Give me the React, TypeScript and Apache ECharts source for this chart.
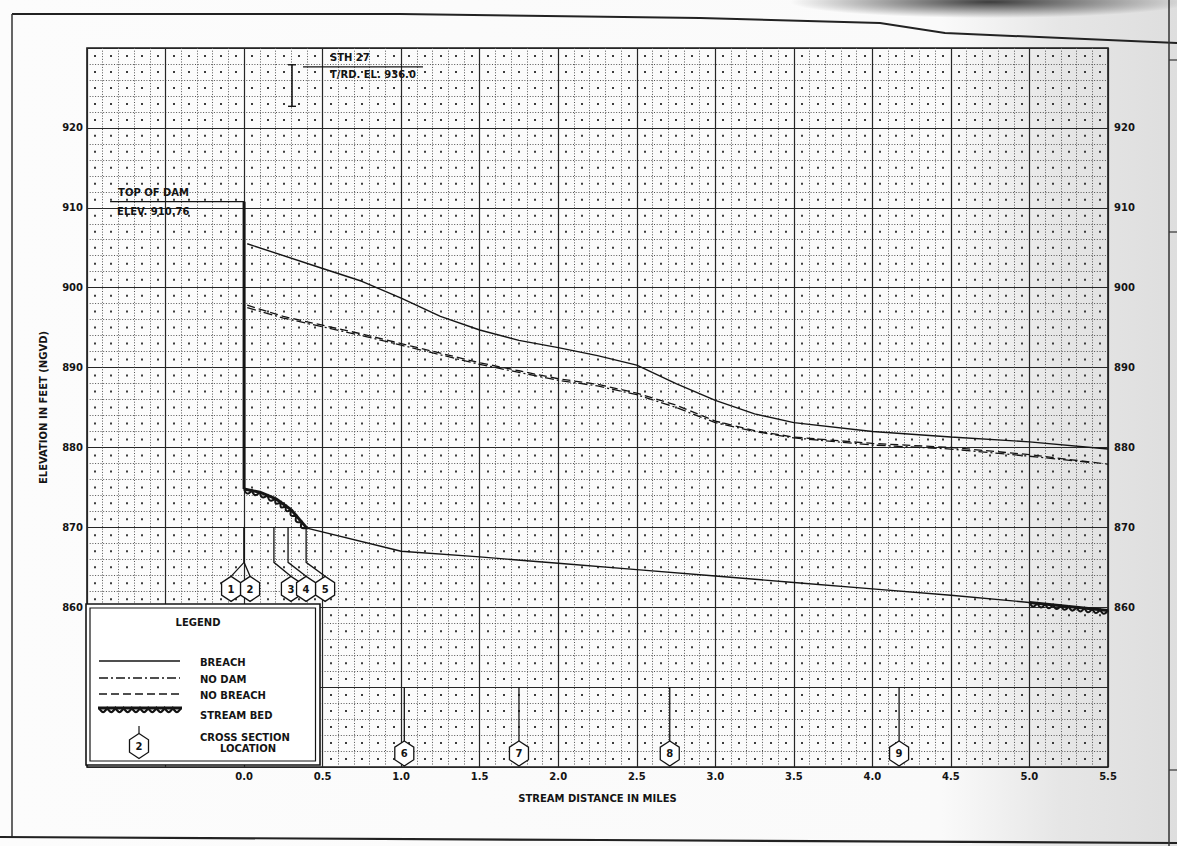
import React, { useEffect, useRef } from "react";
import * as echarts from "echarts";

// ---------------- data ----------------
const xTickLabels = ["0.0", "0.5", "1.0", "1.5", "2.0", "2.5", "3.0", "3.5", "4.0", "4.5", "5.0", "5.5"];
const yTickLabels = ["860", "870", "880", "890", "900", "910", "920"];

const breachMiles = [0.02, 0.5, 0.75, 1.0, 1.25, 1.5, 1.75, 2.0, 2.25, 2.5, 2.75, 3.0, 3.25, 3.5, 4.0, 4.5, 5.0, 5.5];
const breachElev = [905.5, 902.4, 900.8, 898.7, 896.4, 894.7, 893.4, 892.5, 891.5, 890.3, 888.0, 885.9, 884.2, 883.1, 882.0, 881.3, 880.7, 879.8];

const noDamMiles = [0.02, 0.25, 0.5, 0.75, 1.0, 1.25, 1.5, 1.75, 2.0, 2.25, 2.5, 2.75, 3.0, 3.25, 3.5, 4.0, 4.5, 5.0, 5.4];
const noDamElev = [897.5, 896.2, 895.1, 894.0, 892.8, 891.6, 890.4, 889.4, 888.4, 887.7, 886.6, 885.0, 883.1, 882.0, 881.2, 880.3, 879.8, 878.9, 878.1];

const noBreachMiles = [0.02, 0.25, 0.5, 0.75, 1.0, 1.25, 1.5, 1.75, 2.0, 2.25, 2.5, 2.75, 3.0, 3.25, 3.5, 4.0, 4.5, 5.0, 5.5];
const noBreachElev = [897.8, 896.4, 895.3, 894.2, 893.0, 891.8, 890.6, 889.6, 888.6, 887.9, 886.8, 885.3, 883.3, 882.1, 881.3, 880.5, 880.0, 879.1, 877.9];

const bedMiles = [0.0, 0.1, 0.2, 0.3, 0.4, 1.0, 1.5, 2.0, 2.5, 3.0, 3.5, 4.0, 4.5, 5.0, 5.25, 5.5];
const bedElev = [874.8, 874.4, 873.6, 872.2, 869.9, 867.0, 866.3, 865.5, 864.7, 863.9, 863.1, 862.3, 861.5, 860.6, 860.1, 859.6];
const scallopRanges = [[0.0, 0.4], [5.0, 5.5]];

const damMile = 0.0;
const topOfDamElev = 910.76;
const roadMile = 0.305;
const roadBarElev = [922.7, 927.9];

const crossSectionIds = [1, 2, 3, 4, 5, 6, 7, 8, 9];
const crossSectionMiles = [0.0, 0.0, 0.19, 0.28, 0.395, 1.02, 1.75, 2.71, 4.17];

// ---------------- helpers ----------------
const pair = (xs: number[], ys: number[]) => xs.map((x, i) => [x, ys[i]]);

function scallopPoints(p0: number[], p1: number[], period: number, amp: number) {
  const dx = p1[0] - p0[0];
  const dy = p1[1] - p0[1];
  const L = Math.hypot(dx, dy) || 1;
  const nx = -dy / L;
  const ny = dx / L;
  const n = Math.max(1, Math.round(L / period));
  const pts: number[][] = [];
  for (let k = 0; k < n; k++) {
    for (let j = 0; j <= 8; j++) {
      if (k > 0 && j === 0) continue;
      const t = (k + j / 8) / n;
      const off = amp * Math.sin((Math.PI * j) / 8);
      pts.push([p0[0] + dx * t + nx * off, p0[1] + dy * t + ny * off]);
    }
  }
  return pts;
}

export default function App() {
  const ref = useRef<HTMLDivElement>(null);

  useEffect(() => {
    if (!ref.current) return;
    const chart = echarts.init(ref.current, null, { renderer: "svg" });

    const INK = "#141414";
    const FONT = "'DejaVu Sans', 'Liberation Sans', sans-serif";
    const W = 1177;
    const HGT = 846;
    const gridTop = 48;
    const gridBottom = 79;
    const gridLeft = 87;
    const gridRight = 69;
    const xMin = -1.0;
    const xMax = 5.5;
    const yMin = 840;
    const yMax = 930;
    const plotW = W - gridLeft - gridRight;
    const plotH = HGT - gridTop - gridBottom;
    const cellW = plotW / ((xMax - xMin) / 0.1);
    const cellH = plotH / ((yMax - yMin) / 2);
    const dotLen = 2;
    const dashOffset = cellH - (cellH / 2 - dotLen / 2);
    const nCellsX = Math.round((xMax - xMin) / 0.1);

    const bedScallopSegments: number[][] = [];
    for (let i = 0; i < bedMiles.length - 1; i++) {
      const a = bedMiles[i];
      const b = bedMiles[i + 1];
      if (scallopRanges.some(([s, e]) => a >= s - 1e-9 && b <= e + 1e-9)) {
        bedScallopSegments.push([a, bedElev[i], b, bedElev[i + 1]]);
      }
    }

    const txt = (text: string, x: number, y: number, extra: any = {}) => ({
      type: "text",
      style: {
        text,
        x,
        y,
        fill: INK,
        fontFamily: FONT,
        fontWeight: "bold",
        fontSize: 10,
        align: "left",
        verticalAlign: "middle",
        ...extra,
      },
    });

    // legend graphics (absolute layout)
    const legendScallop = scallopPoints([99, 708], [181, 708], 8.2, 4);
    const lhx = 139, lhy = 746, lhw = 9.5, lhh = 12.5;
    const legendGraphics: any[] = [
      { type: "rect", z: 100, shape: { x: 86, y: 604, width: 234, height: 161 }, style: { fill: "#fff", stroke: INK, lineWidth: 1.6 } },
      { type: "rect", z: 101, shape: { x: 90, y: 608, width: 225.5, height: 153 }, style: { fill: "none", stroke: INK, lineWidth: 1.2 } },
      { ...txt("LEGEND", 198, 622, { align: "center" }), z: 102 },
      { type: "line", z: 102, shape: { x1: 99, y1: 661, x2: 180, y2: 661 }, style: { stroke: INK, lineWidth: 1.4 } },
      { type: "line", z: 102, shape: { x1: 99, y1: 678, x2: 180, y2: 678 }, style: { stroke: INK, lineWidth: 1.4, lineDash: [9, 3, 2, 3] } },
      { type: "line", z: 102, shape: { x1: 99, y1: 694, x2: 180, y2: 694 }, style: { stroke: INK, lineWidth: 1.4, lineDash: [8, 4] } },
      { type: "line", z: 102, shape: { x1: 98, y1: 708, x2: 182, y2: 708 }, style: { stroke: INK, lineWidth: 3 } },
      { type: "polyline", z: 102, shape: { points: legendScallop }, style: { stroke: INK, lineWidth: 2.2, fill: null } },
      { type: "line", z: 102, shape: { x1: lhx, y1: 726, x2: lhx, y2: lhy - lhh }, style: { stroke: INK, lineWidth: 1.2 } },
      {
        type: "polygon", z: 102,
        shape: { points: [[lhx, lhy - lhh], [lhx + lhw, lhy - lhh / 2], [lhx + lhw, lhy + lhh / 2], [lhx, lhy + lhh], [lhx - lhw, lhy + lhh / 2], [lhx - lhw, lhy - lhh / 2]] },
        style: { fill: "#fff", stroke: INK, lineWidth: 1.3 },
      },
      { ...txt("2", lhx, lhy + 0.5, { align: "center" }), z: 103 },
      { ...txt("BREACH", 200, 662), z: 102 },
      { ...txt("NO DAM", 200, 679), z: 102 },
      { ...txt("NO BREACH", 200, 695), z: 102 },
      { ...txt("STREAM BED", 200, 715), z: 102 },
      { ...txt("CROSS SECTION", 200, 737), z: 102 },
      { ...txt("LOCATION", 248, 748, { align: "center" }), z: 102 },
    ];

    // drawing sheet frame (scan border)
    const frameGraphics: any[] = [
      { type: "polyline", z: 1, shape: { points: [[12, 14], [400, 14], [700, 18], [880, 23], [945, 33], [1177, 43]] }, style: { stroke: "#222", lineWidth: 2, fill: null } },
      { type: "line", z: 1, shape: { x1: 12, y1: 14, x2: 12, y2: 838 }, style: { stroke: "#333", lineWidth: 1.5 } },
      { type: "polyline", z: 1, shape: { points: [[0, 837], [600, 840], [1177, 843]] }, style: { stroke: "#222", lineWidth: 2.2, fill: null } },
      { type: "line", z: 1, shape: { x1: 1169, y1: 0, x2: 1169, y2: 846 }, style: { stroke: "#333", lineWidth: 1.5 } },
      { type: "line", z: 1, shape: { x1: 1169, y1: 60, x2: 1177, y2: 60 }, style: { stroke: "#333", lineWidth: 1.2 } },
      { type: "line", z: 1, shape: { x1: 1169, y1: 232, x2: 1177, y2: 232 }, style: { stroke: "#333", lineWidth: 1.2 } },
      { type: "line", z: 1, shape: { x1: 1169, y1: 770, x2: 1177, y2: 770 }, style: { stroke: "#333", lineWidth: 1.2 } },
    ];

    const xFmt = (v: number) => {
      const s = v.toFixed(1);
      return xTickLabels.includes(s) ? s : "";
    };
    const yFmt = (v: number) => {
      const s = String(Math.round(v));
      return yTickLabels.includes(s) ? s : "";
    };

    const labelStyle = { color: INK, fontFamily: FONT, fontWeight: "bold" as const, fontSize: 10 };

    const option: any = {
      animation: false,
      backgroundColor: "transparent",
      grid: [
        { left: gridLeft, right: gridRight, top: gridTop, bottom: gridBottom, show: true, borderColor: "#1a1a1a", borderWidth: 1.6, containLabel: false },
        { left: gridLeft + cellW / 2, right: gridRight + cellW / 2, top: gridTop, bottom: gridBottom, show: false, containLabel: false },
      ],
      xAxis: [
        {
          type: "value", gridIndex: 0, min: xMin, max: xMax, interval: 0.5,
          name: "STREAM DISTANCE IN MILES", nameLocation: "middle", nameGap: 26,
          nameTextStyle: { ...labelStyle, fontSize: 10 },
          axisLine: { show: false }, axisTick: { show: false },
          axisLabel: { formatter: xFmt, margin: 4, ...labelStyle },
          splitLine: { show: true, lineStyle: { color: "#262626", width: 1.2 } },
          minorTick: { show: false, splitNumber: 5 },
          minorSplitLine: { show: true, lineStyle: { color: "#555", width: 1, type: [1, 1.7] } },
        },
        {
          type: "value", gridIndex: 1, min: 0, max: nCellsX - 1, interval: 1,
          axisLine: { show: false }, axisTick: { show: false }, axisLabel: { show: false },
          splitLine: { show: true, lineStyle: { color: "#3c3c3c", width: 2, type: [dotLen, cellH - dotLen], dashOffset } },
        },
      ],
      yAxis: [
        {
          type: "value", gridIndex: 0, min: yMin, max: yMax, interval: 10,
          name: "ELEVATION IN FEET (NGVD)", nameLocation: "middle", nameGap: 39,
          nameTextStyle: { ...labelStyle, fontSize: 10 },
          axisLine: { show: false }, axisTick: { show: false },
          axisLabel: { formatter: yFmt, margin: 4, ...labelStyle },
          splitLine: { show: true, lineStyle: { color: "#262626", width: 1.2 } },
          minorTick: { show: false, splitNumber: 5 },
          minorSplitLine: { show: true, lineStyle: { color: "#555", width: 1, type: [1, 1.7] } },
        },
        {
          type: "value", gridIndex: 0, position: "right", min: yMin, max: yMax, interval: 10,
          axisLine: { show: false }, axisTick: { show: false },
          axisLabel: { formatter: yFmt, margin: 6, ...labelStyle },
          splitLine: { show: false },
        },
        {
          type: "value", gridIndex: 1, min: 0, max: 1, show: false,
          axisLine: { show: false }, axisTick: { show: false }, axisLabel: { show: false }, splitLine: { show: false },
        },
      ],
      graphic: [...frameGraphics, ...legendGraphics],
      series: [
        {
          name: "STREAM BED", type: "line", xAxisIndex: 0, yAxisIndex: 0,
          data: pair(bedMiles, bedElev), symbol: "none", z: 3,
          lineStyle: { color: INK, width: 1.4 },
        },
        {
          name: "STREAM BED (SCALLOP)", type: "custom", xAxisIndex: 0, yAxisIndex: 0, z: 4,
          data: bedScallopSegments,
          encode: { x: [0, 2], y: [1, 3] },
          renderItem: (params: any, api: any) => {
            const p0 = api.coord([api.value(0), api.value(1)]);
            const p1 = api.coord([api.value(2), api.value(3)]);
            return {
              type: "group",
              children: [
                { type: "line", shape: { x1: p0[0], y1: p0[1], x2: p1[0], y2: p1[1] }, style: { stroke: INK, lineWidth: 3 } },
                { type: "polyline", shape: { points: scallopPoints(p0, p1, 7.5, 3.8) }, style: { stroke: INK, lineWidth: 2, fill: null } },
              ],
            };
          },
        },
        {
          name: "BREACH", type: "line", xAxisIndex: 0, yAxisIndex: 0,
          data: pair(breachMiles, breachElev), symbol: "none", z: 3,
          lineStyle: { color: INK, width: 1.4 },
        },
        {
          name: "NO DAM", type: "line", xAxisIndex: 0, yAxisIndex: 0,
          data: pair(noDamMiles, noDamElev), symbol: "none", z: 3,
          lineStyle: { color: INK, width: 1.3, type: [9, 3, 2, 3] },
        },
        {
          name: "NO BREACH", type: "line", xAxisIndex: 0, yAxisIndex: 0,
          data: pair(noBreachMiles, noBreachElev), symbol: "none", z: 3,
          lineStyle: { color: INK, width: 1.3, type: [8, 4] },
        },
        {
          name: "DAM", type: "line", xAxisIndex: 0, yAxisIndex: 0,
          data: [[damMile, bedElev[0]], [damMile, topOfDamElev]], symbol: "none", z: 5,
          lineStyle: { color: INK, width: 3 },
        },
        {
          name: "ANNOTATIONS", type: "custom", xAxisIndex: 0, yAxisIndex: 0, z: 6,
          data: [[damMile, topOfDamElev]],
          renderItem: (params: any, api: any) => {
            const b = api.coord([damMile, topOfDamElev]);
            const a = [b[0] - 134, b[1]];
            const r0 = api.coord([roadMile, roadBarElev[0]]);
            const r1 = api.coord([roadMile, roadBarElev[1]]);
            const lx0 = r1[0] + 11;
            const lx1 = r1[0] + 131;
            const ly = r1[1] + 2;
            return {
              type: "group",
              children: [
                { type: "line", shape: { x1: a[0], y1: a[1], x2: b[0], y2: b[1] }, style: { stroke: INK, lineWidth: 1.3 } },
                txt("TOP OF DAM", a[0] + 8, a[1] - 9),
                txt("ELEV. 910.76", a[0] + 7, a[1] + 10),
                { type: "line", shape: { x1: r0[0], y1: r0[1], x2: r1[0], y2: r1[1] }, style: { stroke: INK, lineWidth: 1.6 } },
                { type: "line", shape: { x1: r0[0] - 4, y1: r0[1], x2: r0[0] + 4, y2: r0[1] }, style: { stroke: INK, lineWidth: 1.4 } },
                { type: "line", shape: { x1: r1[0] - 4, y1: r1[1], x2: r1[0] + 4, y2: r1[1] }, style: { stroke: INK, lineWidth: 1.4 } },
                { type: "line", shape: { x1: lx0, y1: ly, x2: lx1, y2: ly }, style: { stroke: INK, lineWidth: 1.3 } },
                txt("STH 27", lx0 + 27, ly - 9),
                txt("T/RD. EL. 936.0", lx0 + 27, ly + 8),
              ],
            };
          },
        },
        {
          name: "CROSS SECTION LOCATION", type: "custom", xAxisIndex: 0, yAxisIndex: 0, z: 7,
          data: crossSectionMiles.map((m, i) => [m, crossSectionIds[i]]),
          encode: { x: 0 },
          renderItem: (params: any, api: any) => {
            const m = api.value(0);
            const id = api.value(1);
            const upper = id <= 5;
            const dxs = [-13, 6, 17, 18, 19, 0, 0, 0, 0];
            const dx = dxs[params.dataIndex] || 0;
            const top = api.coord([m, upper ? 870 : 850]);
            const c = api.coord([m, upper ? 862.3 : 841.7]);
            const cx = c[0] + dx;
            const cy = c[1];
            const hw = 9.5;
            const hh = 12.5;
            const hexTop = cy - hh;
            const leader = upper
              ? [[top[0], top[1]], [top[0], hexTop - 14], [cx, hexTop]]
              : [[top[0], top[1]], [cx, hexTop]];
            return {
              type: "group",
              children: [
                { type: "polyline", shape: { points: leader }, style: { stroke: INK, lineWidth: 1.3, fill: null } },
                {
                  type: "polygon",
                  shape: { points: [[cx, cy - hh], [cx + hw, cy - hh / 2], [cx + hw, cy + hh / 2], [cx, cy + hh], [cx - hw, cy + hh / 2], [cx - hw, cy - hh / 2]] },
                  style: { fill: "#fff", stroke: INK, lineWidth: 1.3 },
                },
                txt(String(id), cx, cy + 0.5, { align: "center" }),
              ],
            };
          },
        },
      ],
    };

    chart.setOption(option);
    return () => chart.dispose();
  }, []);

  return (
    <div
      ref={ref}
      style={{
        position: "absolute",
        left: 0,
        top: 0,
        width: 1177,
        height: 846,
        background:
          "radial-gradient(ellipse 200px 16px at 990px 2px, rgba(0,0,0,0.75), rgba(0,0,0,0) 100%), linear-gradient(to right, #fcfcfc 0%, #fafafa 80%, #e6e6e6 90%, #dedede 100%)",
      }}
    />
  );
}
